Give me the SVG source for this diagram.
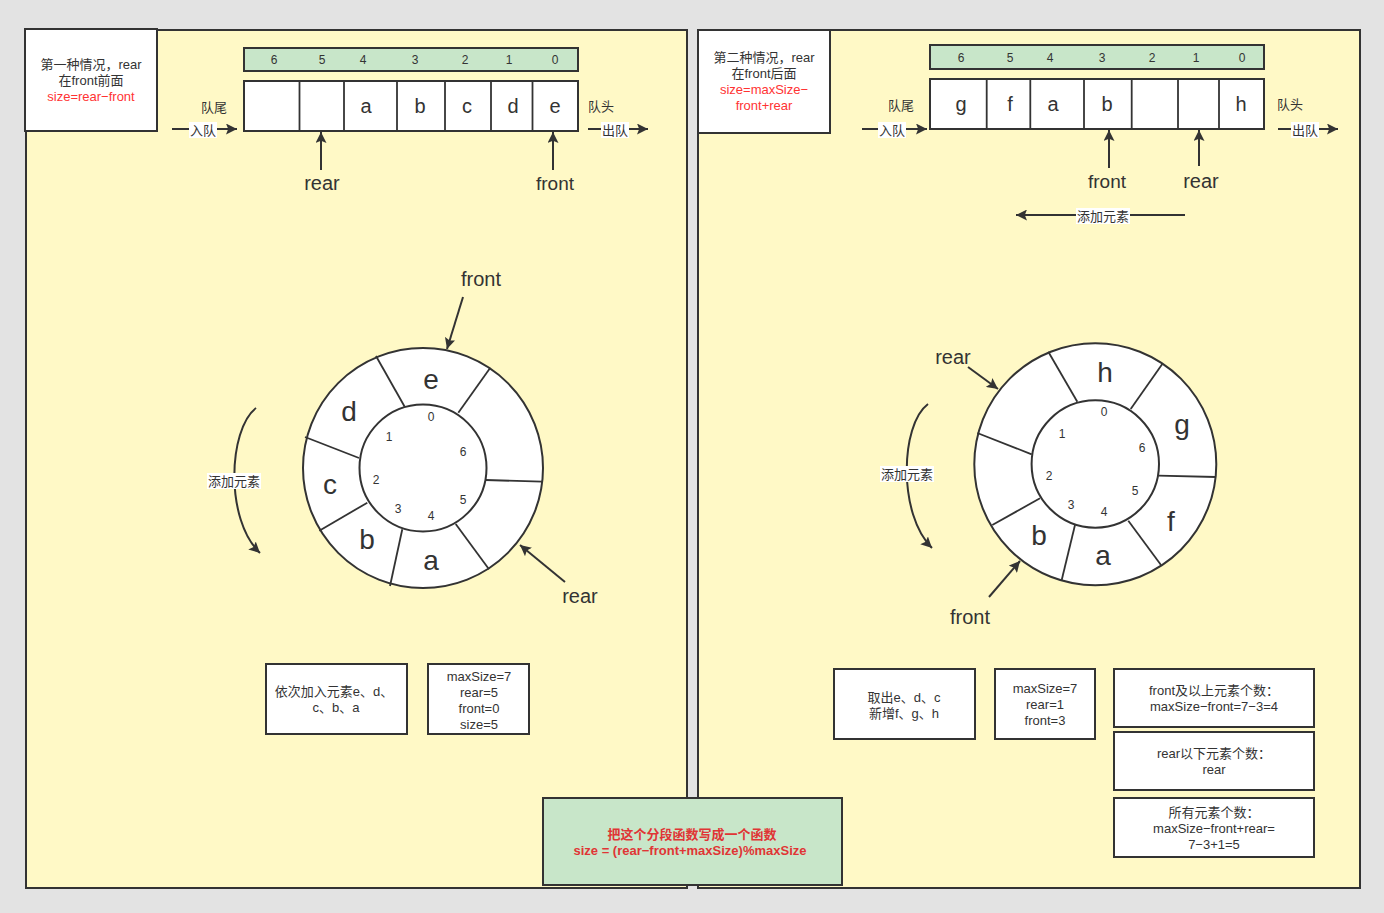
<svg xmlns="http://www.w3.org/2000/svg" width="1384" height="913" viewBox="0 0 1384 913">
  <style>
    .panel { fill: #fff9c6; stroke: #333; stroke-width: 2; }
    .box { fill: #fff; stroke: #333; stroke-width: 2; }
    .idx { fill: #c8e6c9; stroke: #333; stroke-width: 2; }
    .cell { fill: #fff; stroke: #333; stroke-width: 2; }
    .div { stroke: #333; stroke-width: 1.8; fill: none; }
    .ring { fill: #fff; stroke: #333; stroke-width: 2; }
    .conn { stroke: #333; stroke-width: 2; fill: none; }
    text { font-family: "Liberation Sans", "Noto Sans CJK SC", sans-serif; fill: #333; text-anchor: middle; dominant-baseline: central; }
    .s { font-size: 13px; }
    .n { font-size: 12px; }
    .m { font-size: 19px; }
    .l { font-size: 20px; }
    .big { font-size: 28px; }
    .red { fill: #ff3333; }
    .formula { fill: #e03535; font-size: 13px; font-weight: bold; }
    .lbl { fill: #fff; }
  </style>
  <defs>
    <marker id="arr" viewBox="0 0 10 10" refX="10" refY="5" markerWidth="11" markerHeight="11" markerUnits="userSpaceOnUse" orient="auto">
      <path d="M0,0 L10,5 L0,10 L2,5 z" fill="#333"/>
    </marker>
  </defs>

  <rect width="1384" height="913" fill="#e3e3e3"/>

  <!-- panels -->
  <rect class="panel" x="26" y="30" width="661" height="858"/>
  <rect class="panel" x="698" y="30" width="662" height="858"/>

  <!-- ===== case 1 ===== -->
  <g id="case1-title">
    <rect class="box" x="25" y="29" width="132" height="102"/>
    <text class="s" x="91" y="64">第一种情况，rear</text>
    <text class="s" x="91" y="80">在front前面</text>
    <text class="s red" x="91" y="96">size=rear−front</text>
  </g>

  <g id="case1-index">
    <rect class="idx" x="244" y="48" width="334" height="23"/>
    <text class="n" x="274" y="60">6</text>
    <text class="n" x="322" y="60">5</text>
    <text class="n" x="363" y="60">4</text>
    <text class="n" x="415" y="60">3</text>
    <text class="n" x="465" y="60">2</text>
    <text class="n" x="509" y="60">1</text>
    <text class="n" x="555" y="60">0</text>
  </g>

  <g id="case1-array">
    <rect class="cell" x="244" y="81" width="334" height="50"/>
    <line class="div" x1="299.5" y1="81" x2="299.5" y2="131"/>
    <line class="div" x1="344" y1="81" x2="344" y2="131"/>
    <line class="div" x1="397" y1="81" x2="397" y2="131"/>
    <line class="div" x1="445" y1="81" x2="445" y2="131"/>
    <line class="div" x1="491" y1="81" x2="491" y2="131"/>
    <line class="div" x1="532.5" y1="81" x2="532.5" y2="131"/>
    <text class="l" x="366" y="106">a</text>
    <text class="l" x="420" y="106">b</text>
    <text class="l" x="467" y="106">c</text>
    <text class="l" x="513" y="106">d</text>
    <text class="l" x="555" y="106">e</text>
  </g>

  <g id="case1-ring">
    <circle class="ring" cx="423" cy="468" r="120"/>
    <line class="div" x1="376" y1="356" x2="404.7" y2="406.7"/>
    <line class="div" x1="490.3" y1="367.7" x2="458.3" y2="412.7"/>
    <line class="div" x1="485.7" y1="480" x2="542" y2="481.7"/>
    <line class="div" x1="455.7" y1="524" x2="489" y2="569.3"/>
    <line class="div" x1="402.3" y1="529.3" x2="390" y2="586"/>
    <line class="div" x1="367.3" y1="502.7" x2="319.3" y2="530.7"/>
    <line class="div" x1="359" y1="458" x2="305" y2="437"/>
    <circle class="ring" cx="423" cy="468" r="63.5"/>
    <text class="big" x="431" y="379">e</text>
    <text class="big" x="349" y="411">d</text>
    <text class="big" x="330" y="484">c</text>
    <text class="big" x="367" y="539">b</text>
    <text class="big" x="431" y="560">a</text>
    <text class="n" x="431" y="417">0</text>
    <text class="n" x="389" y="437">1</text>
    <text class="n" x="463" y="452">6</text>
    <text class="n" x="376" y="480">2</text>
    <text class="n" x="463" y="500">5</text>
    <text class="n" x="398" y="509">3</text>
    <text class="n" x="431" y="516">4</text>
  </g>

  <g id="case1-note">
    <rect class="box" x="266" y="664" width="141" height="70"/>
    <text class="s" x="334" y="691">依次加入元素e、d、</text>
    <text class="s" x="336" y="707">c、b、a</text>
  </g>

  <g id="case1-vars">
    <rect class="box" x="428" y="664" width="101" height="70"/>
    <text class="s" x="479" y="676">maxSize=7</text>
    <text class="s" x="479" y="692">rear=5</text>
    <text class="s" x="479" y="708">front=0</text>
    <text class="s" x="479" y="724">size=5</text>
  </g>

  <!-- ===== case 2 ===== -->
  <g id="case2-title">
    <rect class="box" x="698" y="30" width="132" height="103"/>
    <text class="s" x="764" y="57">第二种情况，rear</text>
    <text class="s" x="764" y="73">在front后面</text>
    <text class="s red" x="764" y="89">size=maxSize−</text>
    <text class="s red" x="764" y="105">front+rear</text>
  </g>

  <g id="case2-index">
    <rect class="idx" x="930" y="45" width="334" height="24"/>
    <text class="n" x="961" y="58">6</text>
    <text class="n" x="1010" y="58">5</text>
    <text class="n" x="1050" y="58">4</text>
    <text class="n" x="1102" y="58">3</text>
    <text class="n" x="1152" y="58">2</text>
    <text class="n" x="1196" y="58">1</text>
    <text class="n" x="1242" y="58">0</text>
  </g>

  <g id="case2-array">
    <rect class="cell" x="930" y="79" width="334" height="50"/>
    <line class="div" x1="986.7" y1="79" x2="986.7" y2="129"/>
    <line class="div" x1="1030.3" y1="79" x2="1030.3" y2="129"/>
    <line class="div" x1="1084" y1="79" x2="1084" y2="129"/>
    <line class="div" x1="1131.7" y1="79" x2="1131.7" y2="129"/>
    <line class="div" x1="1178" y1="79" x2="1178" y2="129"/>
    <line class="div" x1="1219" y1="79" x2="1219" y2="129"/>
    <text class="l" x="961" y="104">g</text>
    <text class="l" x="1010" y="104">f</text>
    <text class="l" x="1053" y="104">a</text>
    <text class="l" x="1107" y="104">b</text>
    <text class="l" x="1241" y="104">h</text>
  </g>

  <g id="case2-ring">
    <circle class="ring" cx="1095.3" cy="464.2" r="121"/>
    <line class="div" x1="1048.3" y1="351.7" x2="1077.3" y2="401.7"/>
    <line class="div" x1="1162.3" y1="364" x2="1130.7" y2="409"/>
    <line class="div" x1="1158.3" y1="475.7" x2="1216" y2="477"/>
    <line class="div" x1="1128.3" y1="520.7" x2="1161" y2="565"/>
    <line class="div" x1="1075" y1="525" x2="1061.7" y2="580"/>
    <line class="div" x1="1040" y1="498.3" x2="992.3" y2="525"/>
    <line class="div" x1="1031.7" y1="454.3" x2="977.3" y2="433"/>
    <circle class="ring" cx="1095.3" cy="464" r="63.7"/>
    <text class="big" x="1105" y="372">h</text>
    <text class="big" x="1182" y="424">g</text>
    <text class="big" x="1171" y="521">f</text>
    <text class="big" x="1103" y="555">a</text>
    <text class="big" x="1039" y="535">b</text>
    <text class="n" x="1104" y="412">0</text>
    <text class="n" x="1062" y="434">1</text>
    <text class="n" x="1142" y="448">6</text>
    <text class="n" x="1049" y="476">2</text>
    <text class="n" x="1135" y="491">5</text>
    <text class="n" x="1071" y="505">3</text>
    <text class="n" x="1104" y="512">4</text>
  </g>

  <g id="case2-note">
    <rect class="box" x="834" y="669" width="141" height="70"/>
    <text class="s" x="904" y="697">取出e、d、c</text>
    <text class="s" x="904" y="713">新增f、g、h</text>
  </g>

  <g id="case2-vars">
    <rect class="box" x="995" y="669" width="100" height="70"/>
    <text class="s" x="1045" y="688">maxSize=7</text>
    <text class="s" x="1045" y="704">rear=1</text>
    <text class="s" x="1045" y="720">front=3</text>
  </g>

  <g id="case2-upper-count">
    <rect class="box" x="1114" y="669" width="200" height="58"/>
    <text class="s" x="1214" y="690">front及以上元素个数：</text>
    <text class="s" x="1214" y="706">maxSize−front=7−3=4</text>
  </g>

  <g id="case2-lower-count">
    <rect class="box" x="1114" y="732" width="200" height="58"/>
    <text class="s" x="1214" y="753">rear以下元素个数：</text>
    <text class="s" x="1214" y="769">rear</text>
  </g>

  <g id="case2-total">
    <rect class="box" x="1114" y="798" width="200" height="59"/>
    <text class="s" x="1214" y="812">所有元素个数：</text>
    <text class="s" x="1214" y="828">maxSize−front+rear=</text>
    <text class="s" x="1214" y="844">7−3+1=5</text>
  </g>

  <!-- unified formula -->
  <g id="formula">
    <rect x="543" y="798" width="299" height="87" fill="#c8e6c9" stroke="#333" stroke-width="2"/>
    <text class="formula" x="692" y="834">把这个分段函数写成一个函数</text>
    <text class="formula" x="690" y="850">size = (rear−front+maxSize)%maxSize</text>
  </g>

  <!-- connectors -->
  <g id="connectors">
    <!-- case 1 -->
    <line class="conn" x1="172" y1="129" x2="237" y2="129" marker-end="url(#arr)"/>
    <line class="conn" x1="588" y1="129" x2="648" y2="129" marker-end="url(#arr)"/>
    <line class="conn" x1="321" y1="170" x2="321" y2="132" marker-end="url(#arr)"/>
    <line class="conn" x1="553" y1="170" x2="553" y2="132" marker-end="url(#arr)"/>
    <line class="conn" x1="463" y1="297" x2="447" y2="349" marker-end="url(#arr)"/>
    <line class="conn" x1="565" y1="582" x2="520" y2="545" marker-end="url(#arr)"/>
    <path class="conn" d="M256,408 C228,430 225,520 260,553" marker-end="url(#arr)"/>
    <!-- case 2 -->
    <line class="conn" x1="862" y1="129" x2="927" y2="129" marker-end="url(#arr)"/>
    <line class="conn" x1="1278" y1="129" x2="1338" y2="129" marker-end="url(#arr)"/>
    <line class="conn" x1="1109" y1="168" x2="1109" y2="130" marker-end="url(#arr)"/>
    <line class="conn" x1="1199" y1="166" x2="1199" y2="130" marker-end="url(#arr)"/>
    <line class="conn" x1="1185" y1="215" x2="1016" y2="215" marker-end="url(#arr)"/>
    <line class="conn" x1="968" y1="367" x2="998" y2="389" marker-end="url(#arr)"/>
    <line class="conn" x1="989" y1="597" x2="1020" y2="561" marker-end="url(#arr)"/>
    <path class="conn" d="M928,404 C900,425 898,515 932,548" marker-end="url(#arr)"/>

    <!-- edge labels -->
    <rect class="lbl" x="189" y="122" width="28" height="16"/>
    <text class="s" x="203" y="130">入队</text>
    <rect class="lbl" x="601" y="122" width="28" height="16"/>
    <text class="s" x="615" y="130">出队</text>
    <rect class="lbl" x="207" y="473" width="54" height="16"/>
    <text class="s" x="234" y="481">添加元素</text>
    <rect class="lbl" x="878" y="122" width="28" height="16"/>
    <text class="s" x="892" y="130">入队</text>
    <rect class="lbl" x="1291" y="122" width="28" height="16"/>
    <text class="s" x="1305" y="130">出队</text>
    <rect class="lbl" x="1076" y="208" width="54" height="16"/>
    <text class="s" x="1103" y="216">添加元素</text>
    <rect class="lbl" x="880" y="466" width="54" height="16"/>
    <text class="s" x="907" y="474">添加元素</text>

    <!-- pointer labels -->
    <text class="s" x="214" y="107">队尾</text>
    <text class="s" x="601" y="106">队头</text>
    <text class="l" x="322" y="183">rear</text>
    <text class="m" x="555" y="183">front</text>
    <text class="l" x="481" y="279">front</text>
    <text class="l" x="580" y="596">rear</text>
    <text class="s" x="901" y="105">队尾</text>
    <text class="s" x="1290" y="104">队头</text>
    <text class="m" x="1107" y="181">front</text>
    <text class="l" x="1201" y="181">rear</text>
    <text class="l" x="953" y="357">rear</text>
    <text class="l" x="970" y="617">front</text>
  </g>
</svg>
